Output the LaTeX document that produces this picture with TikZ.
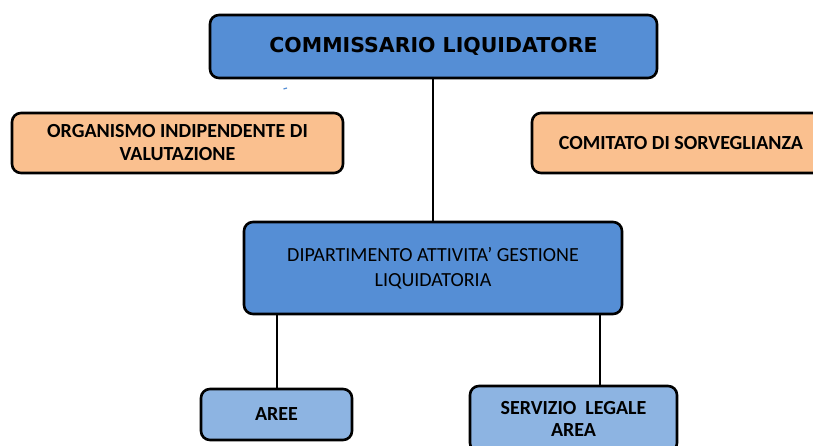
\documentclass[tikz,border=0pt]{standalone}
\usepackage{fontspec}
\setmainfont{Carlito}
\newfontfamily\headfont{DejaVu Sans}
\definecolor{darkblue}{RGB}{85,142,213}
\definecolor{lightblue}{RGB}{141,180,226}
\definecolor{peach}{RGB}{250,192,143}
\begin{document}
\begin{tikzpicture}[x=1pt, y=-1pt,
    box/.style={draw=black, line width=2.6pt, rounded corners=9pt, align=center, inner sep=0pt},
    link/.style={line width=1.8pt}]
    % Frame
    \useasboundingbox (0,0) rectangle (813,446);
    \clip (0,0) rectangle (813,446);

    % Top level
    \node[box, fill=darkblue, minimum width=447pt, minimum height=63pt,
        font=\headfont\bfseries\fontsize{20.5}{24}\selectfont]
        (comm) at (433.5,46.5) {COMMISSARIO LIQUIDATORE};
    \draw[line width=1.2pt, darkblue] (283.5,89) -- (287,88);

    % Side bodies
    \node[box, fill=peach, minimum width=331pt, minimum height=60pt,
        font=\bfseries\fontsize{20}{23}\selectfont]
        (oiv) at (177.5,143) {ORGANISMO INDIPENDENTE DI\\VALUTAZIONE};
    \node[box, fill=peach, minimum width=298pt, minimum height=60pt,
        font=\bfseries\fontsize{20}{23}\selectfont]
        (comitato) at (681,143) {COMITATO DI SORVEGLIANZA};

    % Department
    \node[box, fill=darkblue, minimum width=378pt, minimum height=92pt,
        font=\fontsize{20}{25}\selectfont]
        (dip) at (433,268) {DIPARTIMENTO ATTIVITA' GESTIONE\\LIQUIDATORIA};

    % Bottom level
    \node[box, fill=lightblue, minimum width=151pt, minimum height=51pt,
        font=\bfseries\fontsize{20}{22}\selectfont]
        (aree) at (276.5,414.5) {AREE};
    \node[box, fill=lightblue, minimum width=207pt, minimum height=66pt,
        font=\bfseries\fontsize{20}{22}\selectfont]
        (legale) at (573.5,419) {SERVIZIO\ \ LEGALE\\AREA};

    % Connectors
    \draw[link] (dip.north |- comm.south) -- (dip.north);
    \draw[link] (aree.north -| 277,0) -- (277,0 |- dip.south);
    \draw[link] (legale.north -| 600,0) -- (600,0 |- dip.south);
\end{tikzpicture}
\end{document}
